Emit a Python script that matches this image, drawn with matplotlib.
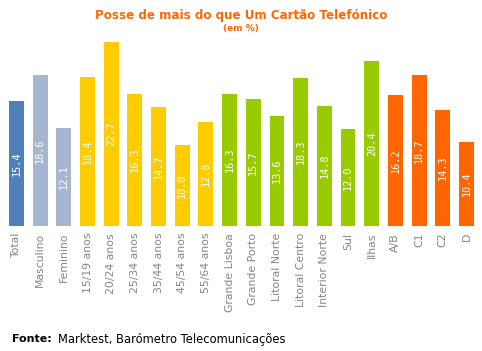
import matplotlib
matplotlib.use('Agg')
import matplotlib.pyplot as plt

categories = ['Total', 'Masculino', 'Feminino', '15/19 anos', '20/24 anos', '25/34 anos',
              '35/44 anos', '45/54 anos', '55/64 anos', 'Grande Lisboa', 'Grande Porto',
              'Litoral Norte', 'Litoral Centro', 'Interior Norte', 'Sul', 'Ilhas',
              'A/B', 'C1', 'C2', 'D']
values = [15.4, 18.6, 12.1, 18.4, 22.7, 16.3, 14.7, 10.0, 12.8, 16.3, 15.7,
          13.6, 18.3, 14.8, 12.0, 20.4, 16.2, 18.7, 14.3, 10.4]
groups = ['total'] + ['sexo'] * 2 + ['idade'] * 6 + ['regiao'] * 7 + ['classe'] * 4

group_colors = {'total': '#4F81B9', 'sexo': '#A6B6D0', 'idade': '#FFCC00',
                'regiao': '#99CC00', 'classe': '#FF6600'}
colors = [group_colors[g] for g in groups]

fig = plt.figure(figsize=(4.82, 3.51), dpi=100)
# axes placed so bars sit where they do in the original
ax = fig.add_axes([0, 125 / 351, 1, 226 / 351])

x = list(range(len(categories)))
ax.bar(x, values, width=0.63, color=colors)

for xi, v in zip(x, values):
    ax.text(xi, v / 2, f'{v:.1f}', rotation=90, ha='center', va='center',
            color='white', fontsize=7.4, family='DejaVu Sans Mono')

ax.set_xlim(-16.5 / 23.68, (482 - 16.5) / 23.68)
ax.set_ylim(0, 226 / 8.1)
ax.set_xticks(x)
ax.set_xticklabels(categories, rotation=90, color='#858585', fontsize=7.8)
ax.tick_params(axis='x', length=0, pad=5)
ax.set_yticks([])
for s in ax.spines.values():
    s.set_visible(False)

fig.text(0.5, 1 - 15 / 351, 'Posse de mais do que Um Cartão Telefónico', ha='center',
         va='center', color='#FF6600', fontsize=8.6, fontweight='bold')
fig.text(0.5, 1 - 28 / 351, '(em %)', ha='center', va='center', color='#FF6600',
         fontsize=6.5, fontweight='bold')

fig.text(12 / 482, 1 - 339 / 351, 'Fonte:', ha='left', va='center', fontsize=8,
         fontweight='bold', color='black')
fig.text(58 / 482, 1 - 339 / 351, 'Marktest, Barómetro Telecomunicações', ha='left',
         va='center', fontsize=8.3, color='black')

fig.savefig('out.png', dpi=100)
